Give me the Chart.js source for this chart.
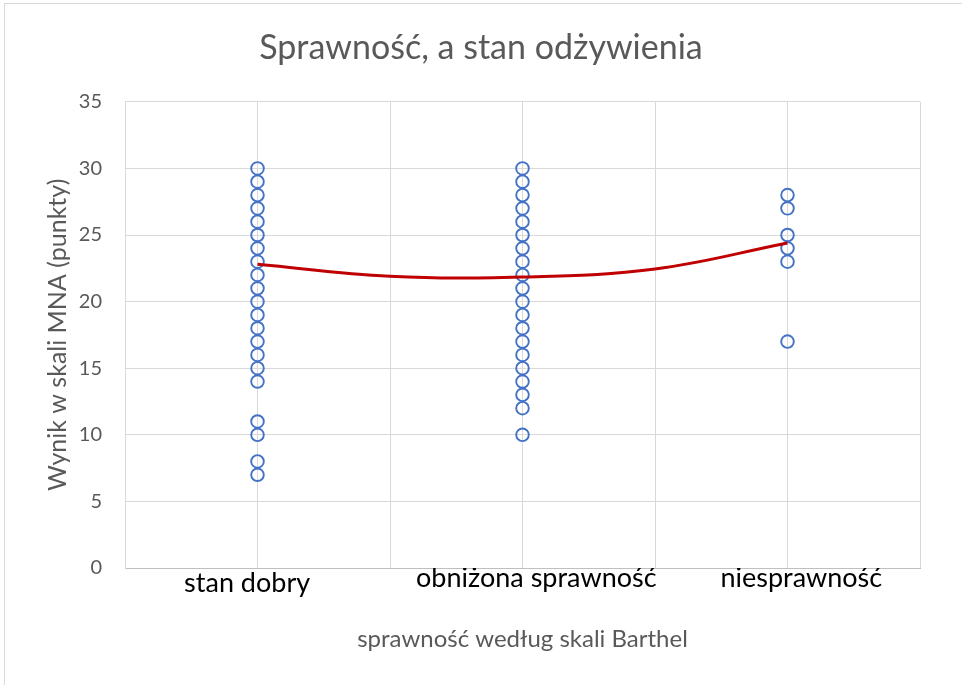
<!DOCTYPE html>
<html>
<head>
<meta charset="utf-8">
<script src="https://cdn.jsdelivr.net/npm/chart.js@4.4.1/dist/chart.umd.min.js"></script>
<style>
  html, body { margin: 0; padding: 0; overflow: hidden; background: #fff; }
  #wrap { position: relative; width: 962px; height: 685px; }
  #frame { position: absolute; left: 4px; top: 3px; width: 1200px; height: 1200px; border: 1px solid #D9D9D9; box-sizing: border-box; }
  canvas { position: absolute; left: 0; top: 0; }
</style>
</head>
<body>
<div id="wrap">
  <div id="frame"></div>
  <canvas id="c" width="962" height="685"></canvas>
</div>
<script>
const chartTitle = 'Sprawność, a stan odżywienia';
const xAxisTitle = 'sprawność według skali Barthel';
const yAxisTitle = 'Wynik w skali MNA (punkty)';
const categories = ['stan dobry', 'obniżona sprawność', 'niesprawność'];

const goodScores = [30, 29, 28, 27, 26, 25, 24, 23, 22, 21, 20, 19, 18, 17, 16, 15, 14, 11, 10, 8, 7];
const reducedScores = [30, 29, 28, 27, 26, 25, 24, 23, 22, 21, 20, 19, 18, 17, 16, 15, 14, 13, 12, 10];
const disabledScores = [28, 27, 25, 24, 23, 17];

// polynomial trend line read at category positions 1, 1.5, 2, 2.5, 3
const trendPositions = [1, 1.5, 2, 2.5, 3];
const trendValues = [22.8, 21.9, 21.85, 22.45, 24.4];

const yTicks = [0, 5, 10, 15, 20, 25, 30, 35];

const seriesList = [goodScores, reducedScores, disabledScores];
const scatterPoints = [];
seriesList.forEach((arr, i) => arr.forEach(v => scatterPoints.push({ x: i + 1, y: v })));
const trendPoints = trendPositions.map((p, i) => ({ x: p, y: trendValues[i] }));

const grey = '#595959';
const fam = 'Lato, "Open Sans", sans-serif';

// label nudges (as in the source, labels sit slightly off the category centre)
function labelFor(i) {
  const t = categories[i];
  return i === 0 ? t + '   ' : '    ' + t;
}

new Chart(document.getElementById('c'), {
  type: 'scatter',
  data: {
    datasets: [
      {
        type: 'line',
        label: 'trend',
        data: trendPoints,
        borderColor: '#C00000',
        borderWidth: 3,
        pointRadius: 0,
        tension: 0.4,
        fill: false,
        order: 0
      },
      {
        label: 'MNA',
        data: scatterPoints,
        pointStyle: 'circle',
        pointRadius: 6.3,
        pointBorderWidth: 1.9,
        borderColor: '#4472C4',
        backgroundColor: 'rgba(0,0,0,0)',
        order: 1
      }
    ]
  },
  options: {
    responsive: false,
    animation: false,
    layout: { padding: 0 },
    plugins: {
      legend: { display: false },
      tooltip: { enabled: false },
      title: {
        display: true,
        text: chartTitle,
        color: grey,
        font: { family: fam, size: 34, weight: 'normal', lineHeight: 1.2 },
        padding: { top: 28, bottom: 33 }
      }
    },
    scales: {
      x: {
        type: 'linear',
        min: 0.5,
        max: 3.5,
        afterBuildTicks: (scale) => {
          scale.ticks = [0.5, 1, 1.5, 2, 2.5, 3, 3.5].map(v => ({ value: v }));
        },
        afterFit: (scale) => { scale.height = 117; },
        ticks: {
          autoSkip: false,
          maxRotation: 0,
          padding: 0,
          color: '#000000',
          font: (ctx) => ({ family: fam, size: 27, lineHeight: (ctx.tick && ctx.tick.value === 1) ? 1.12 : 0.75 }),
          callback: (v) => (Number.isInteger(v) ? labelFor(v - 1) : '')
        },
        grid: { color: '#D9D9D9', lineWidth: 1, drawTicks: false },
        border: { display: true, color: '#BFBFBF', width: 1 },
        title: {
          display: true,
          text: xAxisTitle,
          color: grey,
          font: { family: fam, size: 24 },
          padding: { top: 0, bottom: 31 }
        }
      },
      y: {
        min: 0,
        max: 35,
        afterBuildTicks: (scale) => {
          scale.ticks = yTicks.map(v => ({ value: v }));
        },
        afterFit: (scale) => { scale.width = 125; },
        ticks: {
          padding: 23,
          color: grey,
          font: { family: fam, size: 20 }
        },
        grid: { color: '#D9D9D9', lineWidth: 1, drawTicks: false },
        border: { display: true, color: '#D9D9D9', width: 1 },
        title: {
          display: true,
          text: yAxisTitle,
          color: grey,
          font: { family: fam, size: 25 },
          padding: { top: 43, bottom: 0 }
        }
      },
      spacer: {
        type: 'linear',
        position: 'right',
        display: true,
        afterFit: (scale) => { scale.width = 42; },
        ticks: { display: false },
        grid: { display: false, drawTicks: false },
        border: { display: false }
      }
    }
  }
});
</script>
</body>
</html>
